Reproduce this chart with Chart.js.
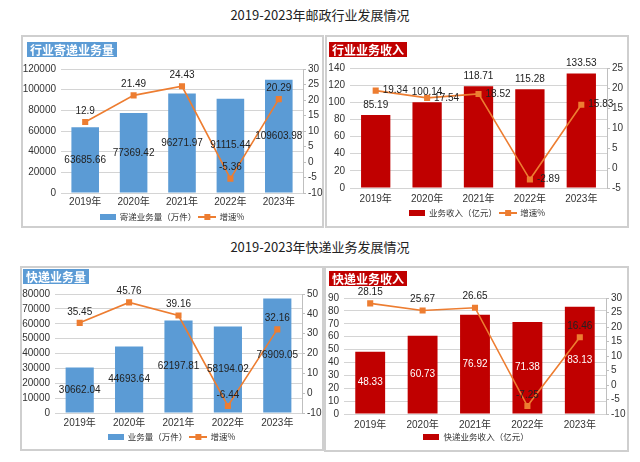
<!DOCTYPE html>
<html>
<head>
<meta charset="utf-8">
<script src="https://cdn.jsdelivr.net/npm/chart.js@4"></script>
<style>
  body { margin: 0; background: #fff; width: 640px; height: 462px; position: relative; overflow: hidden; }
  .title { position: absolute; left: 0; width: 640px; text-align: center; font: 13px "Noto Sans CJK SC", sans-serif; color: #222; line-height: 20px; }
  .box { position: absolute; border: 2px solid #cfcfcf; box-sizing: border-box; }
  .tag { position: absolute; color: #fff; font: bold 12px "Noto Sans CJK SC", sans-serif; line-height: 15px; padding: 0 3px; }
  canvas { position: absolute; }
</style>
</head>
<body>
<div class="title" style="top:5px">2019-2023年邮政行业发展情况</div>
<div class="title" style="top:237px">2019-2023年快递业务发展情况</div>

<div class="box" style="left:21px;top:35px;width:303px;height:193px"></div>
<div class="box" style="left:325px;top:35px;width:304px;height:193px"></div>
<div class="box" style="left:20px;top:266px;width:304px;height:185px"></div>
<div class="box" style="left:324px;top:266px;width:305px;height:186px"></div>

<canvas id="c1" width="302" height="210" style="left:21px;top:35px"></canvas>
<canvas id="c2" width="302" height="210" style="left:326px;top:35px"></canvas>
<canvas id="c3" width="303" height="200" style="left:20px;top:266px"></canvas>
<canvas id="c4" width="304" height="200" style="left:324px;top:266px"></canvas>

<div class="tag" style="left:27px;top:42px;background:#5b9bd5">行业寄递业务量</div>
<div class="tag" style="left:329px;top:42px;background:#c00000">行业业务收入</div>
<div class="tag" style="left:23px;top:269px;background:#5b9bd5">快递业务量</div>
<div class="tag" style="left:329px;top:271px;background:#c00000">快递业务收入</div>

<script>
var years = ['2019年', '2020年', '2021年', '2022年', '2023年'];

// 邮政行业
var postVolume = [63685.66, 77369.42, 96271.97, 91115.44, 109603.98];
var postVolumeGrowth = [12.9, 21.49, 24.43, -5.36, 20.29];
var postRevenue = [85.19, 100.14, 118.71, 115.28, 133.53];
var postRevenueGrowth = [19.34, 17.54, 18.52, -2.89, 15.83];

// 快递
var expressVolume = [30662.04, 44693.64, 62197.81, 58194.02, 76909.05];
var expressVolumeGrowth = [35.45, 45.76, 39.16, -6.44, 32.16];
var expressRevenue = [48.33, 60.73, 76.92, 71.38, 83.13];
var expressRevenueGrowth = [28.15, 25.67, 26.65, -7.25, 16.46];

// axis ranges: [min, max, step]
var postVolumeAxis = [0, 120000, 20000], postVolumeGrowthAxis = [-10, 30, 5];
var postRevenueAxis = [0, 140, 20], postRevenueGrowthAxis = [-5, 25, 5];
var expressVolumeAxis = [0, 80000, 10000], expressVolumeGrowthAxis = [-10, 50, 10];
var expressRevenueAxis = [0, 90, 10], expressRevenueGrowthAxis = [-10, 30, 5];

var BLUE = '#5b9bd5', RED = '#c00000', ORANGE = '#ed7d31';
var NUM_FONT = '"Liberation Sans", "Noto Sans CJK SC", sans-serif';

// legend icons
function barIcon(color) {
    var c = document.createElement('canvas');
    c.width = 16; c.height = 6;
    var g = c.getContext('2d');
    g.fillStyle = color;
    g.fillRect(0, 0, 16, 6);
    return c;
}
function lineIcon(color) {
    var c = document.createElement('canvas');
    c.width = 18; c.height = 8;
    var g = c.getContext('2d');
    g.fillStyle = color;
    g.fillRect(0, 3, 18, 2);
    g.fillRect(6, 1, 6, 6);
    return c;
}

var valueLabels = {
    id: 'valueLabels',
    afterDatasetsDraw: function (chart, args, opts) {
        var ctx = chart.ctx;
        ctx.save();
        ctx.font = '10px ' + NUM_FONT;
        chart.data.datasets.forEach(function (ds, i) {
            var meta = chart.getDatasetMeta(i);
            meta.data.forEach(function (el, j) {
                var txt = String(ds.data[j]);
                if (meta.type === 'bar') {
                    ctx.fillStyle = opts.barColor;
                    ctx.textAlign = 'center';
                    if (opts.barPos === 'center') {
                        ctx.textBaseline = 'middle';
                        ctx.fillText(txt, el.x, (el.y + el.base) / 2);
                    } else {
                        ctx.textBaseline = 'bottom';
                        ctx.fillText(txt, el.x, el.y - 5);
                    }
                } else {
                    ctx.fillStyle = '#222';
                    if (opts.linePos === 'right') {
                        ctx.textAlign = 'left';
                        ctx.textBaseline = 'middle';
                        ctx.fillText(txt, el.x + 7, el.y);
                    } else {
                        ctx.textAlign = 'center';
                        ctx.textBaseline = 'bottom';
                        ctx.fillText(txt, el.x, el.y - 6);
                    }
                }
            });
        });
        ctx.restore();
    }
};

function plain(v) { return String(v); }

function makeChart(id, o) {
    var H = document.getElementById(id).height;
    var W = document.getElementById(id).width;
    var legendTop = o.legendY - 7.25;
    var xHeight = legendTop - o.area[3];
    var padBottom = H - legendTop - 21.5;
    var icons = [barIcon(o.barColor), lineIcon(ORANGE)];

    return new Chart(document.getElementById(id), {
        type: 'bar',
        data: {
            labels: years,
            datasets: [
                {
                    type: 'line',
                    label: '增速%',
                    data: o.growth,
                    yAxisID: 'y1',
                    borderColor: ORANGE,
                    backgroundColor: ORANGE,
                    borderWidth: 1.6,
                    pointStyle: 'rect',
                    pointRadius: 4.3,
                    pointBorderWidth: 0,
                    tension: 0,
                    order: 0
                },
                {
                    label: o.barLabel,
                    data: o.bars,
                    yAxisID: 'y',
                    backgroundColor: o.barColor,
                    barPercentage: 0.57,
                    categoryPercentage: 1,
                    order: 1
                }
            ]
        },
        options: {
            responsive: false,
            animation: false,
            layout: { padding: { left: 0, right: 0, top: o.area[2], bottom: padBottom } },
            plugins: {
                tooltip: { enabled: false },
                legend: {
                    position: 'bottom',
                    labels: {
                        usePointStyle: true,
                        pointStyleWidth: 16,
                        padding: 3,
                        color: '#333',
                        font: { size: 8.5, family: '"Noto Sans CJK SC", sans-serif' },
                        generateLabels: function (chart) {
                            var items = Chart.defaults.plugins.legend.labels.generateLabels(chart);
                            items.forEach(function (it) {
                                it.pointStyle = it.datasetIndex === 1 ? icons[0] : icons[1];
                            });
                            items.sort(function (a, b) { return b.datasetIndex - a.datasetIndex; });
                            return items.filter(function (it) { return it.datasetIndex === 1 || o.lineLegend; });
                        }
                    }
                },
                valueLabels: { barColor: o.barTextColor, barPos: o.barPos, linePos: o.linePos }
            },
            scales: {
                x: {
                    grid: { display: false, drawTicks: false },
                    border: { display: false },
                    ticks: { color: '#333', padding: o.xPad, font: { size: 10, family: NUM_FONT } },
                    afterFit: function (s) { s.height = xHeight; }
                },
                y: {
                    position: 'left',
                    min: o.leftAxis[0], max: o.leftAxis[1],
                    grid: { color: '#d4d4d4', drawTicks: false },
                    border: { display: false },
                    ticks: { stepSize: o.leftAxis[2], autoSkip: false, callback: plain, color: '#333', padding: 5, font: { size: 10, family: NUM_FONT } },
                    afterFit: function (s) { s.width = o.area[0]; }
                },
                y1: {
                    position: 'right',
                    min: o.rightAxis[0], max: o.rightAxis[1],
                    grid: { drawOnChartArea: false, drawTicks: true, tickLength: 3, color: '#bfbfbf' },
                    border: { display: true, color: '#bfbfbf' },
                    ticks: { stepSize: o.rightAxis[2], autoSkip: false, callback: plain, color: '#333', padding: 2, font: { size: 10, family: NUM_FONT } },
                    afterFit: function (s) { s.width = W - o.area[1]; }
                }
            }
        },
        plugins: [valueLabels]
    });
}

// area: [left, right, top, bottom] inside canvas
makeChart('c1', {
    bars: postVolume, growth: postVolumeGrowth, barLabel: '寄递业务量（万件）',
    barColor: BLUE, barTextColor: '#222', barPos: 'center', linePos: 'top',
    leftAxis: postVolumeAxis, rightAxis: postVolumeGrowthAxis,
    area: [40, 282, 34, 158], legendY: 182, xPad: 3, lineLegend: true
});
makeChart('c2', {
    bars: postRevenue, growth: postRevenueGrowth, barLabel: '业务收入（亿元）',
    barColor: RED, barTextColor: '#222', barPos: 'top', linePos: 'right',
    leftAxis: postRevenueAxis, rightAxis: postRevenueGrowthAxis,
    area: [24, 281, 33, 153], legendY: 178, xPad: 5, lineLegend: true
});
makeChart('c3', {
    bars: expressVolume, growth: expressVolumeGrowth, barLabel: '业务量（万件）',
    barColor: BLUE, barTextColor: '#222', barPos: 'center', linePos: 'top',
    leftAxis: expressVolumeAxis, rightAxis: expressVolumeGrowthAxis,
    area: [35, 282, 28, 147], legendY: 171, xPad: 4, lineLegend: true
});
makeChart('c4', {
    bars: expressRevenue, growth: expressRevenueGrowth, barLabel: '快递业务收入（亿元）',
    barColor: RED, barTextColor: '#fff', barPos: 'center', linePos: 'top',
    leftAxis: expressRevenueAxis, rightAxis: expressRevenueGrowthAxis,
    area: [20, 282, 32, 148], legendY: 171, xPad: 5, lineLegend: false
});
</script>
</body>
</html>
